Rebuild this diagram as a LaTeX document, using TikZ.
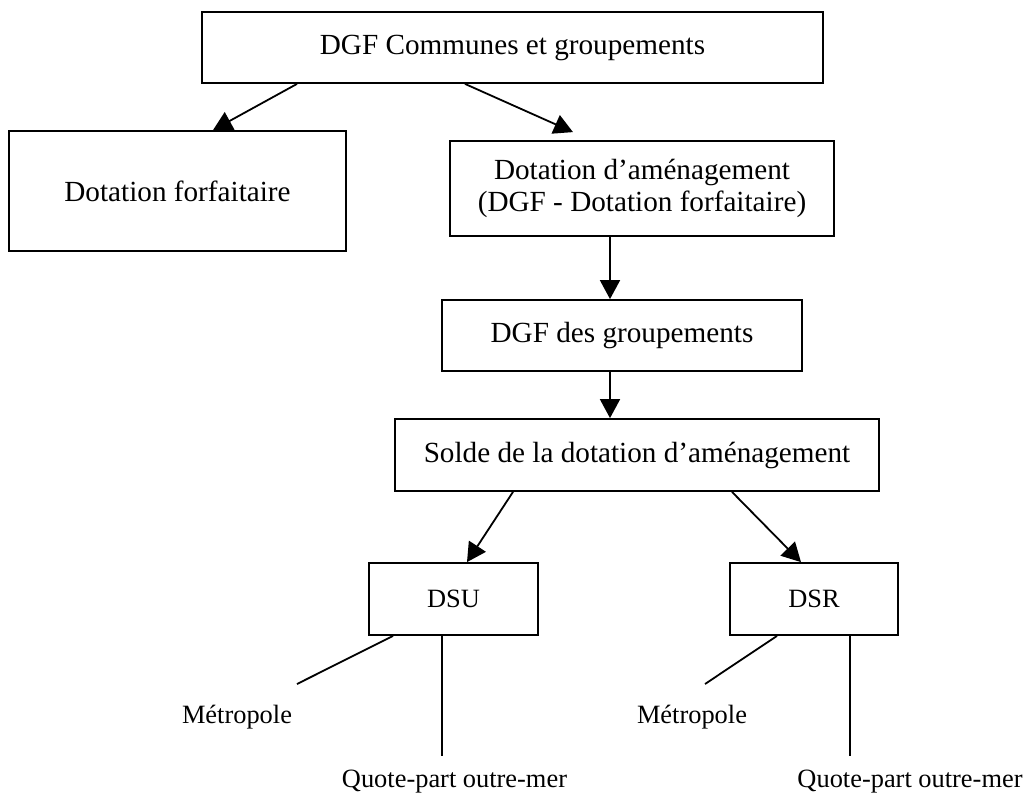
\documentclass[tikz,border=0pt]{standalone}
\usepackage{fontspec}
\setmainfont{Liberation Serif}
\usepackage{tikz}
\usetikzlibrary{arrows.meta, positioning, calc}
\newcommand{\grandtexte}{\fontsize{29.2pt}{34pt}\selectfont}
\newcommand{\petittexte}{\fontsize{26.4pt}{31pt}\selectfont}

\begin{document}
\begin{tikzpicture}[x=1pt, y=-1pt, >={Triangle[length=19pt, width=20pt]},
    boite/.style={draw, line width=1.8pt, inner sep=0pt, align=center, font=\grandtexte},
    lien/.style={line width=1.8pt},
    etiquette/.style={inner sep=0pt, font=\petittexte}]

\useasboundingbox (0, 0) rectangle (1028, 796);

% =============================================================================
% BOITES
% =============================================================================
\node[boite, minimum width=621pt, minimum height=71pt] (dgf) at (512.5, 47.5) {DGF Communes et groupements};
\node[boite, minimum width=337pt, minimum height=120pt] (forf) at (177.5, 191) {Dotation forfaitaire};
\node[boite, minimum width=384pt, minimum height=95pt] (amen) at (642, 188.5) {Dotation d'aménagement\\[-2pt](DGF - Dotation forfaitaire)};
\node[boite, minimum width=360pt, minimum height=71pt] (grp) at (622, 335.5) {DGF des groupements};
\node[boite, minimum width=484pt, minimum height=72pt] (solde) at (637, 455) {Solde de la dotation d'aménagement};
\node[boite, font=\petittexte, minimum width=169pt, minimum height=72pt] (dsu) at (453.5, 599) {DSU};
\node[boite, font=\petittexte, minimum width=168pt, minimum height=72pt] (dsr) at (814, 599) {DSR};

% =============================================================================
% ETIQUETTES DU BAS
% =============================================================================
\node[etiquette] (metroU) at (237, 717) {Métropole};
\node[etiquette] (quoteU) at (454.5, 782) {Quote-part outre-mer};
\node[etiquette] (metroR) at (692, 717) {Métropole};
\node[etiquette] (quoteR) at (910, 782) {Quote-part outre-mer};

\coordinate (finMU) at (297, 684);
\coordinate (finQU) at (442, 756);
\coordinate (finMR) at (705, 684);
\coordinate (finQR) at (850, 756);

% =============================================================================
% FLECHES
% =============================================================================
\draw[lien, ->] ([xshift=-215.5pt]dgf.south) -- ([xshift=35.5pt]forf.north);
\draw[lien, ->] ([xshift=-47.5pt]dgf.south) -- ([xshift=-69pt, yshift=8pt]amen.north);
\draw[lien, ->] ([xshift=-12pt]grp.north |- amen.south) -- ([xshift=-12pt]grp.north);
\draw[lien, ->] ([xshift=-12pt]grp.south) -- ([xshift=-12pt]grp.south |- solde.north);
\draw[lien, ->] ([xshift=-124pt]solde.south) -- ([xshift=13.5pt]dsu.north);
\draw[lien, ->] ([xshift=95pt]solde.south) -- ([xshift=-13pt]dsr.north);

% Traits vers les etiquettes
\draw[lien] ([xshift=-60.5pt]dsu.south) -- (finMU);
\draw[lien] ([xshift=-11.5pt]dsu.south) -- (finQU);
\draw[lien] ([xshift=-37pt]dsr.south) -- (finMR);
\draw[lien] ([xshift=36pt]dsr.south) -- (finQR);

\end{tikzpicture}
\end{document}
